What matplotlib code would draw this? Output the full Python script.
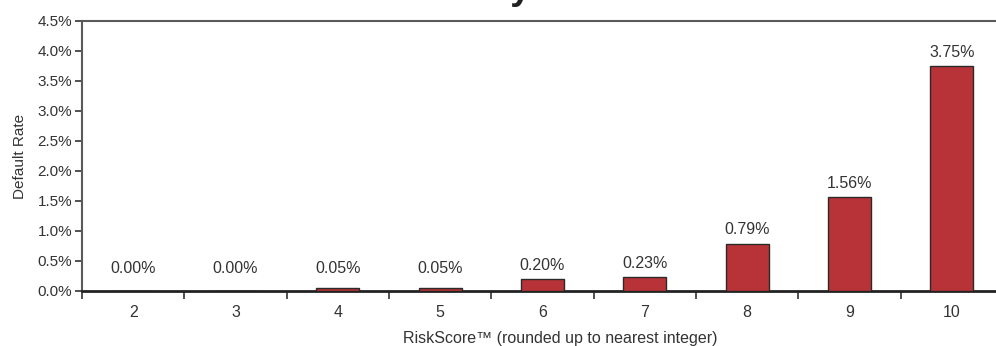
import matplotlib
matplotlib.use("Agg")
import matplotlib.pyplot as plt
from matplotlib.ticker import FixedLocator, FuncFormatter

# Default rate by RiskScore bucket
scores = [2, 3, 4, 5, 6, 7, 8, 9, 10]
default_rate = [0.00, 0.00, 0.05, 0.05, 0.20, 0.23, 0.79, 1.56, 3.75]  # percent
y_ticks = [0.0, 0.5, 1.0, 1.5, 2.0, 2.5, 3.0, 3.5, 4.0, 4.5]

plt.rcParams['font.family'] = ['Liberation Sans', 'DejaVu Sans']
text_color = '#333333'

fig = plt.figure(figsize=(9.96, 3.46), dpi=100)
W, H = 996, 346
left, right, top, bottom = 82, 1003, 21, 291
ax = fig.add_axes([left / W, 1 - bottom / H, (right - left) / W, (bottom - top) / H])

x = list(range(len(scores)))
ax.bar(x, default_rate, width=0.42, color='#B83337', edgecolor='#2a2a2a', linewidth=1.0, zorder=3)

for xi, v in zip(x, default_rate):
    ax.annotate(f"{v:.2f}%", xy=(xi, max(v, 0.15)), xytext=(0, 4.5), textcoords='offset points',
                ha='center', va='bottom', fontsize=11.5, color=text_color)

ax.set_xlim(-0.5, len(scores) - 0.5)
ax.set_ylim(0, 4.5)
ax.yaxis.set_major_locator(FixedLocator(y_ticks))
ax.yaxis.set_major_formatter(FuncFormatter(lambda v, _: f"{v:.1f}%"))

ax.set_xticks(x)
ax.set_xticklabels([str(s) for s in scores])
ax.set_xticks([i - 0.5 for i in range(len(scores) + 1)], minor=True)
ax.tick_params(axis='x', which='major', length=0, pad=10, labelsize=11.5, labelcolor=text_color)
ax.tick_params(axis='x', which='minor', length=6, width=1.2, color='#333333', direction='out')
ax.tick_params(axis='y', length=5, width=1.2, color='#333333', labelsize=11, labelcolor=text_color, pad=2)

for side in ('left', 'top'):
    ax.spines[side].set_color('#5a5a5a')
    ax.spines[side].set_linewidth(1.5)
ax.spines['bottom'].set_color('#222222')
ax.spines['bottom'].set_linewidth(2.0)
ax.spines['right'].set_visible(False)

ax.set_ylabel("Default Rate", fontsize=11, color=text_color, labelpad=8)
ax.set_xlabel("RiskScore\u2122 (rounded up to nearest integer)", fontsize=11.5, color=text_color, labelpad=8)
ax.xaxis.label.set_x(0.519)

fig.text(0.493, 1.0 + 1 / H, "Default Rate by RiskScore", ha='center', va='baseline',
         fontsize=27, fontweight='bold', color='#222222')

fig.savefig("out.png", dpi=100)
